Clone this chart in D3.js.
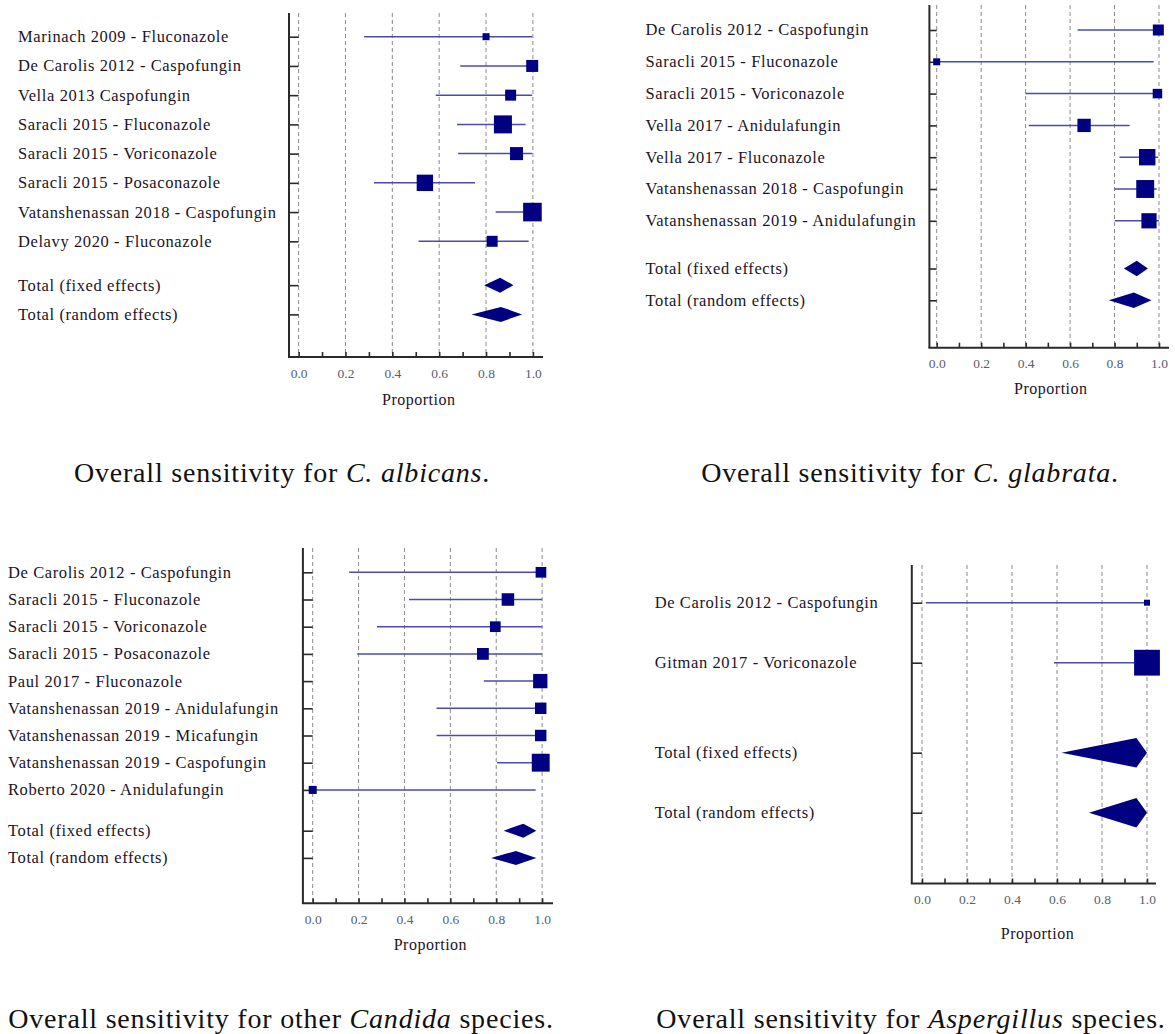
<!DOCTYPE html>
<html>
<head>
<meta charset="utf-8">
<script src="https://cdn.jsdelivr.net/npm/d3@7"></script>
<style>
  body { margin: 0; background: #fff; }
  svg { display: block; }
  .lbl { font-family: "Liberation Serif", serif; font-size: 16.5px; letter-spacing: 0.6px; fill: #1c1424; }
  .tick text { font-family: "Liberation Serif", serif; font-size: 13.5px; fill: #56606e; }
  .axis-title { font-family: "Liberation Serif", serif; font-size: 16px; letter-spacing: 0.5px; fill: #1c1424; }
  .caption { font-family: "Liberation Serif", serif; font-size: 28px; letter-spacing: 0.8px; fill: #111; }
</style>
</head>
<body>
<div id="chart-area"></div>
<script>
// ---- data ----

// C. albicans
const albicansStudies = ["Marinach 2009 - Fluconazole", "De Carolis 2012 - Caspofungin", "Vella 2013 Caspofungin",
  "Saracli 2015 - Fluconazole", "Saracli 2015 - Voriconazole", "Saracli 2015 - Posaconazole",
  "Vatanshenassan 2018 - Caspofungin", "Delavy 2020 - Fluconazole"]
const albicansEst = [0.80, 0.997, 0.905, 0.872, 0.93, 0.539, 0.998, 0.826]
const albicansLo = [0.28, 0.69, 0.585, 0.676, 0.681, 0.322, 0.841, 0.512]
const albicansHi = [0.997, 1.0, 0.997, 0.969, 0.997, 0.753, 1.0, 0.982]
const albicansWeight = [3.2, 9.3, 7.8, 21.0, 11.0, 17.4, 22.4, 7.8]
const albicansFixed = [0.792, 0.860, 0.917]
const albicansRandom = [0.738, 0.863, 0.954]

// C. glabrata
const glabrataStudies = ["De Carolis 2012 - Caspofungin", "Saracli 2015 - Fluconazole", "Saracli 2015 - Voriconazole",
  "Vella 2017 - Anidulafungin", "Vella 2017 - Fluconazole", "Vatanshenassan 2018 - Caspofungin",
  "Vatanshenassan 2019 - Anidulafungin"]
const glabrataEst = [0.997, 0.0, 0.993, 0.663, 0.947, 0.938, 0.955]
const glabrataLo = [0.634, 0.0, 0.399, 0.414, 0.822, 0.80, 0.801]
const glabrataHi = [1.0, 0.976, 1.0, 0.868, 0.997, 0.99, 1.0]
const glabrataWeight = [9.6, 3.9, 7.2, 14.1, 21.4, 25.5, 18.4]
const glabrataFixed = [0.842, 0.900, 0.950]
const glabrataRandom = [0.774, 0.887, 0.966]

// other Candida species
const otherStudies = ["De Carolis 2012 - Caspofungin", "Saracli 2015 - Fluconazole", "Saracli 2015 - Voriconazole",
  "Saracli 2015 - Posaconazole", "Paul 2017 - Fluconazole", "Vatanshenassan 2019 - Anidulafungin",
  "Vatanshenassan 2019 - Micafungin", "Vatanshenassan 2019 - Caspofungin", "Roberto 2020 - Anidulafungin"]
const otherEst = [0.995, 0.851, 0.796, 0.742, 0.992, 0.994, 0.994, 0.994, 0.0]
const otherLo = [0.159, 0.42, 0.28, 0.194, 0.746, 0.54, 0.54, 0.804, 0.0]
const otherHi = [1.0, 1.0, 1.0, 1.0, 1.0, 1.0, 1.0, 1.0, 0.972]
const otherWeight = [8.3, 11.4, 8.3, 10.1, 14.9, 9.5, 9.5, 23.3, 4.7]
const otherFixed = [0.832, 0.918, 0.975]
const otherRandom = [0.778, 0.886, 0.975]

// Aspergillus species
const aspergillusStudies = ["De Carolis 2012 - Caspofungin", "Gitman 2017 - Voriconazole"]
const aspergillusEst = [1.0, 1.0]
const aspergillusLo = [0.017, 0.587]
const aspergillusHi = [1.0, 1.0]
const aspergillusWeight = [5.1, 94.9]
const aspergillusFixed = [0.62, 0.953, 1.0]
const aspergillusRandom = [0.742, 0.953, 1.0]

const totalLabels = ["Total (fixed effects)", "Total (random effects)"]
const minorTicks = [0, 0.1, 0.2, 0.3, 0.4, 0.5, 0.6, 0.7, 0.8, 0.9, 1.0]
const majorTicks = [0, 0.2, 0.4, 0.6, 0.8, 1.0]
const axisTitle = "Proportion"

// captions: [plain, italic, plain]
const captions = [
  ["Overall sensitivity for ", "C. albicans", "."],
  ["Overall sensitivity for ", "C. glabrata", "."],
  ["Overall sensitivity for other ", "Candida", " species."],
  ["Overall sensitivity for ", "Aspergillus", " species."]
]

// ---- layout (pixels) ----
const W = 1175, H = 1034
const panels = [
  { studies: albicansStudies, est: albicansEst, lo: albicansLo, hi: albicansHi, w: albicansWeight,
    fixed: albicansFixed, random: albicansRandom,
    labelX: 18, axisX: 289, x0: 298.6, x1: 532.9, axisEnd: 543, top: 13, bottom: 357,
    rowFirst: 36.7, rowStep: 29.23, maxBox: 18.6, diamondH: 15, titleY: 399,
    caption: captions[0], capX: 282, capY: 472 },
  { studies: glabrataStudies, est: glabrataEst, lo: glabrataLo, hi: glabrataHi, w: glabrataWeight,
    fixed: glabrataFixed, random: glabrataRandom,
    labelX: 645.5, axisX: 929.4, x0: 936.7, x1: 1159, axisEnd: 1169, top: 5, bottom: 347.7,
    rowFirst: 30, rowStep: 31.8, maxBox: 17.9, diamondH: 15.5, titleY: 388,
    caption: captions[1], capX: 910, capY: 472 },
  { studies: otherStudies, est: otherEst, lo: otherLo, hi: otherHi, w: otherWeight,
    fixed: otherFixed, random: otherRandom,
    labelX: 8, axisX: 302.9, x0: 312.7, x1: 542.1, axisEnd: 553, top: 548, bottom: 903.3,
    rowFirst: 572.3, rowStep: 27.2, maxBox: 17.9, diamondH: 14, titleY: 944,
    caption: captions[2], capX: 281, capY: 1018 },
  { studies: aspergillusStudies, est: aspergillusEst, lo: aspergillusLo, hi: aspergillusHi, w: aspergillusWeight,
    fixed: aspergillusFixed, random: aspergillusRandom,
    labelX: 654.7, axisX: 911.8, x0: 922, x1: 1147, axisEnd: 1156, top: 565, bottom: 883.5,
    rowFirst: 602.7, rowStep: 60, maxBox: 25.8, diamondH: 29.5, titleY: 933,
    caption: captions[3], capX: 911, capY: 1018 }
]

const svg = d3.select("#chart-area").append("svg")
  .attr("width", W)
  .attr("height", H)

svg.append("rect").attr("width", W).attr("height", H).attr("fill", "#fff")

const fmt = d3.format(".1f")

panels.forEach(p => {
  const n = p.studies.length
  const g = svg.append("g")

  const x = d3.scaleLinear().domain([0, 1]).range([p.x0, p.x1])
  // row index -> pixel; totals sit half a row below the last study
  const y = d3.scaleLinear().domain([0, 1]).range([p.rowFirst, p.rowFirst + p.rowStep])
  const box = d3.scaleSqrt().domain([0, d3.max(p.w)]).range([0, p.maxBox])

  const rows = p.studies.map((s, i) => ({ label: s, est: p.est[i], lo: p.lo[i], hi: p.hi[i], w: p.w[i], idx: i }))
  const totals = [
    { label: totalLabels[0], v: p.fixed, idx: n + 0.5 },
    { label: totalLabels[1], v: p.random, idx: n + 1.5 }
  ]
  const allIdx = rows.map(d => d.idx).concat(totals.map(d => d.idx))

  // gridlines
  g.selectAll(".grid").data(majorTicks).enter().append("line")
    .attr("x1", d => x(d)).attr("x2", d => x(d))
    .attr("y1", p.top).attr("y2", p.bottom)
    .attr("stroke", "#8a8a8a").attr("stroke-width", 1)
    .attr("stroke-dasharray", "4,3")

  // y axis: line plus inward ticks at every row
  const yAxis = g.append("g")
    .attr("transform", `translate(${p.axisX},0)`)
    .call(d3.axisRight(y).tickValues(allIdx).tickSize(p.x0 - p.axisX).tickFormat(""))
  yAxis.select(".domain").remove()
  yAxis.selectAll(".tick line").attr("stroke", "#2a2a2a").attr("stroke-width", 1.6)
  g.append("line")
    .attr("x1", p.axisX).attr("x2", p.axisX).attr("y1", p.top).attr("y2", p.bottom)
    .attr("stroke", "#2a2a2a").attr("stroke-width", 2)

  // x axis
  const xAxis = g.append("g")
    .attr("transform", `translate(0,${p.bottom})`)
    .call(d3.axisBottom(x).tickValues(minorTicks).tickSize(-5)
      .tickFormat(d => majorTicks.some(m => Math.abs(m - d) < 1e-9) ? fmt(d) : ""))
  xAxis.select(".domain").remove()
  xAxis.selectAll(".tick line").attr("stroke", "#2a2a2a").attr("stroke-width", 1.6)
  xAxis.selectAll(".tick text").attr("y", 16).attr("dy", "0.35em")
  g.append("line")
    .attr("x1", p.axisX - 1).attr("x2", p.axisEnd).attr("y1", p.bottom).attr("y2", p.bottom)
    .attr("stroke", "#2a2a2a").attr("stroke-width", 2)

  g.append("text").attr("class", "axis-title")
    .attr("x", (p.x0 + p.x1) / 2 + 3).attr("y", p.titleY)
    .attr("text-anchor", "middle").attr("dy", "0.35em")
    .text(axisTitle)

  // labels
  g.selectAll(".lbl").data(rows.concat(totals)).enter().append("text")
    .attr("class", "lbl")
    .attr("x", p.labelX).attr("y", d => y(d.idx))
    .attr("dy", "0.33em")
    .text(d => d.label)

  // confidence intervals
  g.selectAll(".ci").data(rows).enter().append("line")
    .attr("x1", d => x(d.lo)).attr("x2", d => x(d.hi))
    .attr("y1", d => y(d.idx)).attr("y2", d => y(d.idx))
    .attr("stroke", "#4b4bab").attr("stroke-width", 1.5)

  // point estimates
  g.selectAll(".box").data(rows).enter().append("rect")
    .attr("x", d => x(d.est) - box(d.w) / 2)
    .attr("y", d => y(d.idx) - box(d.w) / 2)
    .attr("width", d => box(d.w)).attr("height", d => box(d.w))
    .attr("fill", "#000080")

  // pooled diamonds
  g.selectAll(".diamond").data(totals).enter().append("polygon")
    .attr("points", d => {
      const cy = y(d.idx), h = p.diamondH / 2
      return [[x(d.v[0]), cy], [x(d.v[1]), cy - h], [x(d.v[2]), cy], [x(d.v[1]), cy + h]].join(" ")
    })
    .attr("fill", "#000080")

  // caption
  const cap = g.append("text").attr("class", "caption")
    .attr("x", p.capX).attr("y", p.capY).attr("text-anchor", "middle").attr("dy", "0.35em")
  cap.append("tspan").text(p.caption[0])
  cap.append("tspan").attr("font-style", "italic").text(p.caption[1])
  cap.append("tspan").text(p.caption[2])
})
</script>
</body>
</html>
